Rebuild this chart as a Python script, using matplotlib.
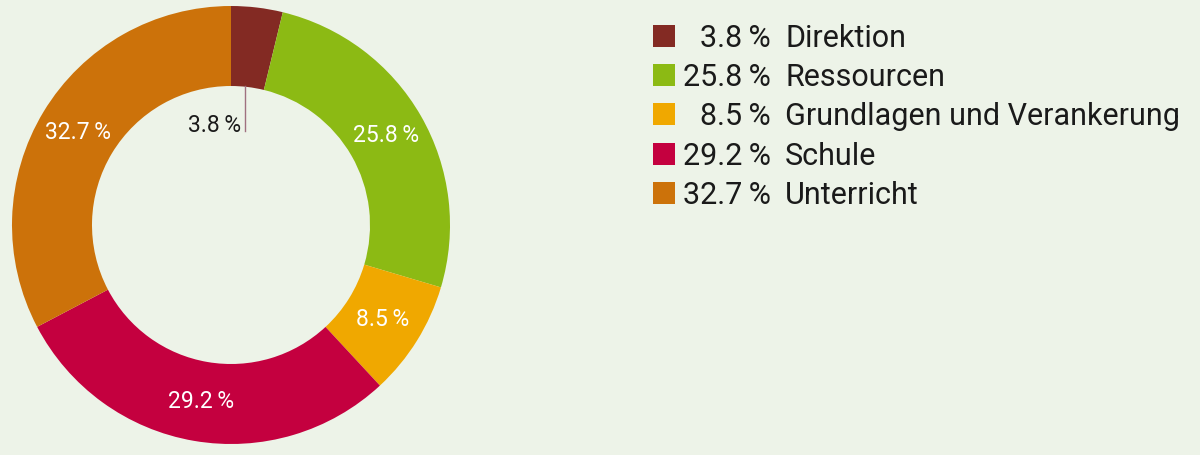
import matplotlib
matplotlib.use("Agg")
import matplotlib.pyplot as plt
from matplotlib.patches import Rectangle
import numpy as np

categories = ["Direktion", "Ressourcen", "Grundlagen und Verankerung", "Schule", "Unterricht"]
values = [3.8, 25.8, 8.5, 29.2, 32.7]
colors = ["#832A23", "#8CBA14", "#F0A800", "#C4003F", "#CC720A"]
bg = "#EDF3E8"

W, H = 1200, 455
fig = plt.figure(figsize=(W / 100, H / 100), dpi=100, facecolor=bg)
plt.rcParams['font.family'] = ['Roboto', 'DejaVu Sans']

cx, cy, R = 231, 225, 219
ax = fig.add_axes([(cx - R) / W, (H - cy - R) / H, 2 * R / W, 2 * R / H])
ax.set_facecolor(bg)
inner = 139 / R
wedges, _ = ax.pie(values, colors=colors, startangle=90, counterclock=False,
                   radius=1.0, wedgeprops=dict(width=1 - inner, linewidth=0))
ax.set_xlim(-1, 1)
ax.set_ylim(-1, 1)
ax.set_aspect('equal')
ax.axis('off')

fmt = lambda v: f"{v:.1f}\u2009%"
mid_r = (1 + inner) / 2
ang = 90.0
for i, (v, w) in enumerate(zip(values, wedges)):
    a0 = ang
    ang -= v / 100 * 360
    theta = np.deg2rad((a0 + ang) / 2)
    if i == 0:
        xl = (245 - cx) / R
        ax.plot([xl, xl], [inner * 0.999, (cy - 131) / R], color="#A07080", lw=1)
        ax.text((241 - cx) / R, (cy - 125) / R, fmt(v), ha='right', va='center',
                fontsize=16.5, color="#1a1a1a")
    else:
        ax.text(mid_r * np.cos(theta), mid_r * np.sin(theta), fmt(v), ha='center', va='center',
                fontsize=16.5, color="white")

# legend
sq_top = [25, 64, 103, 143, 182]
for i, (c, v, col) in enumerate(zip(categories, values, colors)):
    t = sq_top[i]
    fig.patches.append(Rectangle((653 / W, (H - t - 22) / H), 22 / W, 22 / H,
                                 transform=fig.transFigure, facecolor=col, edgecolor='none'))
    base = (H - t - 22) / H
    fig.text(771 / W, base, fmt(v), ha='right', va='baseline', fontsize=22, color="#1a1a1a")
    fig.text(785 / W, base, c, ha='left', va='baseline', fontsize=22, color="#1a1a1a")

fig.savefig("out.png", dpi=100, facecolor=bg)
